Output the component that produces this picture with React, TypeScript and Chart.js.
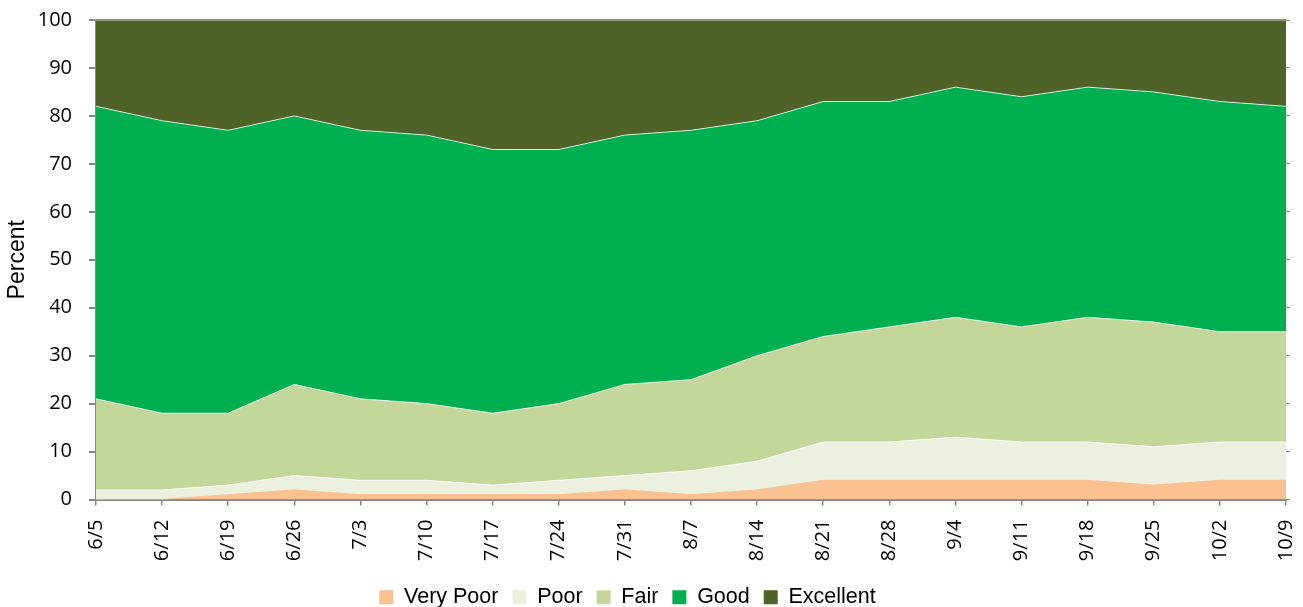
import React, { useEffect, useRef } from "react";
import { Chart, registerables } from "chart.js";

Chart.register(...registerables);

const categories = ["6/5", "6/12", "6/19", "6/26", "7/3", "7/10", "7/17", "7/24", "7/31", "8/7", "8/14", "8/21", "8/28", "9/4", "9/11", "9/18", "9/25", "10/2", "10/9"];
const veryPoor = [0, 0, 1, 2, 1, 1, 1, 1, 2, 1, 2, 4, 4, 4, 4, 4, 3, 4, 4];
const poor = [2, 2, 2, 3, 3, 3, 2, 3, 3, 5, 6, 8, 8, 9, 8, 8, 8, 8, 8];
const fair = [19, 16, 15, 19, 17, 16, 15, 16, 19, 19, 22, 22, 24, 25, 24, 26, 26, 23, 23];
const good = [61, 61, 59, 56, 56, 56, 55, 53, 52, 52, 49, 49, 47, 48, 48, 48, 48, 48, 47];
const excellent = [18, 21, 23, 20, 23, 24, 27, 27, 24, 23, 21, 17, 17, 14, 16, 14, 15, 17, 18];

const seriesNames = ["Very Poor", "Poor", "Fair", "Good", "Excellent"];
const seriesColors = ["#FAC090", "#EBF1DE", "#C4D79B", "#00B050", "#4F6228"];
const seriesValues = [veryPoor, poor, fair, good, excellent];

const AXIS = "#898989";

const zeroPad = (s: any) => {
  s.paddingTop = 0;
  s.paddingBottom = 0;
  s.paddingLeft = 0;
  s.paddingRight = 0;
};

const legendShift = {
  id: "legendShift",
  afterLayout(chart: any) {
    if (chart.legend) {
      chart.legend.left -= 24;
      chart.legend.right -= 24;
    }
  },
};

export default function App() {
  const ref = useRef<HTMLCanvasElement>(null);
  useEffect(() => {
    if (!ref.current) return;
    const chart = new Chart(ref.current, {
      type: "line",
      data: {
        labels: categories,
        datasets: seriesNames.map((name, i) => ({
          label: name,
          data: seriesValues[i],
          backgroundColor: seriesColors[i],
          borderColor: i === 0 ? seriesColors[0] : "rgba(255,255,255,0.75)",
          borderWidth: 1,
          fill: i === 0 ? "origin" : "-1",
          pointRadius: 0,
          tension: 0,
        })),
      },
      plugins: [legendShift],
      options: {
        responsive: false,
        animation: false,
        layout: { padding: { top: 20, left: 0, right: 0, bottom: 0 } },
        plugins: {
          tooltip: { enabled: false },
          legend: {
            position: "bottom",
            labels: {
              boxWidth: 14,
              boxHeight: 14,
              padding: 14,
              color: "#000",
              font: { family: "'Liberation Sans', Arial, sans-serif", size: 21.5 },
              generateLabels: (c: any) =>
                Chart.defaults.plugins.legend.labels.generateLabels(c).map((l: any) => ({
                  ...l,
                  strokeStyle: l.fillStyle,
                  lineWidth: 0,
                })),
            },
          },
        },
        scales: {
          x: {
            offset: false,
            grid: {
              display: true,
              drawOnChartArea: false,
              drawTicks: true,
              tickLength: 6,
              color: AXIS,
              lineWidth: 1.5,
            },
            border: { display: true, color: AXIS, width: 2 },
            ticks: {
              minRotation: 90,
              maxRotation: 90,
              autoSkip: false,
              padding: 14,
              color: "#000",
              font: { family: "'Open Sans', sans-serif", size: 20 },
            },
            afterFit: (s: any) => {
              s.height = 73;
              zeroPad(s);
            },
          },
          y: {
            stacked: true,
            min: 0,
            max: 100,
            ticks: {
              stepSize: 10,
              padding: 17,
              color: "#000",
              font: { family: "'Open Sans', sans-serif", size: 20 },
            },
            grid: {
              drawOnChartArea: true,
              drawTicks: true,
              tickLength: 7,
              color: (ctx: any) => (ctx.tick && ctx.tick.value === 100 ? AXIS : "rgba(0,0,0,0)"),
              tickColor: AXIS,
              lineWidth: 2,
            },
            border: { display: true, color: AXIS, width: 2 },
            title: {
              display: true,
              text: "Percent",
              color: "#000",
              font: { family: "'Liberation Sans', Arial, sans-serif", size: 23 },
            },
            afterFit: (s: any) => {
              s.width = 96;
              zeroPad(s);
            },
          },
          y2: {
            position: "right",
            min: 0,
            max: 100,
            ticks: { display: false, stepSize: 10 },
            grid: {
              drawOnChartArea: false,
              drawTicks: true,
              tickLength: 4,
              color: AXIS,
              lineWidth: 1,
            },
            border: { display: false },
            afterFit: (s: any) => {
              s.width = 17;
              zeroPad(s);
            },
          },
        },
      },
    });
    return () => chart.destroy();
  }, []);
  return (
    <div style={{ position: "absolute", left: 0, top: 0, width: 1303, height: 607, overflow: "hidden", background: "#fff" }}>
      <canvas ref={ref} width={1303} height={618} style={{ display: "block" }} />
    </div>
  );
}
